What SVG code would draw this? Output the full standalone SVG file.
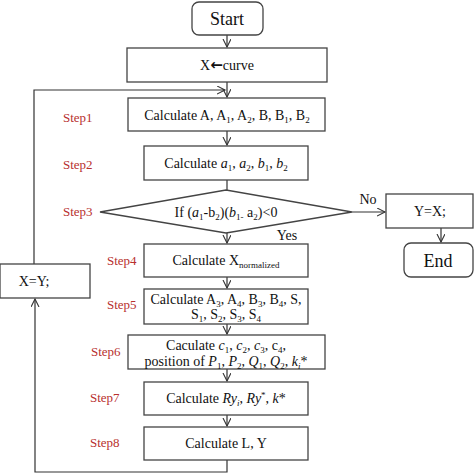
<svg xmlns="http://www.w3.org/2000/svg" width="474" height="474" viewBox="0 0 474 474">
<defs>
<marker id="arr" markerWidth="10" markerHeight="10" refX="8" refY="4" orient="auto" markerUnits="userSpaceOnUse">
<path d="M0,0 L8,4 L0,8" fill="none" stroke="#333" stroke-width="1.1"/>
</marker>
<style>
.box{fill:#fff;stroke:#444;stroke-width:1.3}
.t{font-family:"Liberation Serif","Times New Roman",serif;font-size:14px;fill:#111;text-anchor:middle}
.big{font-size:18px}
.s{font-size:9px}
.st{font-family:"Liberation Serif","Times New Roman",serif;font-size:13px;fill:#b8302e}
.c{fill:none;stroke:#333;stroke-width:1.2}
</style>
</defs>
<rect width="474" height="474" fill="#fff"/>
<g id="connectors">
<line class="c" x1="227" y1="35" x2="227" y2="47" marker-end="url(#arr)"/>
<line class="c" x1="227" y1="82" x2="227" y2="97" marker-end="url(#arr)"/>
<polyline class="c" points="34,264 34,90 225,90" marker-end="url(#arr)"/>
<line class="c" x1="227" y1="131" x2="227" y2="145" marker-end="url(#arr)"/>
<line class="c" x1="227" y1="180" x2="227" y2="190"/>
<line class="c" x1="352" y1="212" x2="385" y2="212" marker-end="url(#arr)"/>
<line class="c" x1="441" y1="228" x2="441" y2="242" marker-end="url(#arr)"/>
<line class="c" x1="227" y1="233" x2="227" y2="243" marker-end="url(#arr)"/>
<line class="c" x1="227" y1="277" x2="227" y2="288" marker-end="url(#arr)"/>
<line class="c" x1="227" y1="324" x2="227" y2="334" marker-end="url(#arr)"/>
<line class="c" x1="227" y1="369" x2="227" y2="381" marker-end="url(#arr)"/>
<line class="c" x1="227" y1="415" x2="227" y2="426" marker-end="url(#arr)"/>
<polyline class="c" points="227,460 227,472 35,472 35,299" marker-end="url(#arr)" stroke-width="1.6"/>
<text class="t" x="368" y="204" font-size="13">No</text>
<text class="t" x="287" y="240" font-size="13">Yes</text>
</g>
<g id="start">
<rect class="box" x="192" y="2" width="71" height="33" rx="7"/>
<text class="t big" x="227" y="25">Start</text>
</g>
<g id="init">
<rect class="box" x="127" y="48" width="200" height="34"/>
<text class="t" x="227" y="70">X<tspan font-family="DejaVu Sans, sans-serif" font-weight="bold" font-size="15">←</tspan>curve</text>
</g>
<g id="step1">
<text class="st" x="63" y="122">Step1</text>
<rect class="box" x="128" y="98" width="197" height="33"/>
<text class="t" x="227" y="120">Calculate A, A<tspan class="s" dy="3">1</tspan><tspan dy="-3">, A</tspan><tspan class="s" dy="3">2</tspan><tspan dy="-3">, B, B</tspan><tspan class="s" dy="3">1</tspan><tspan dy="-3">, B</tspan><tspan class="s" dy="3">2</tspan></text>
</g>
<g id="step2">
<text class="st" x="63" y="169">Step2</text>
<rect class="box" x="144" y="146" width="164" height="34"/>
<text class="t" x="226" y="168">Calculate <tspan font-style="italic">a</tspan><tspan class="s" dy="3">1</tspan><tspan dy="-3">, </tspan><tspan font-style="italic">a</tspan><tspan class="s" dy="3">2</tspan><tspan dy="-3">, </tspan><tspan font-style="italic">b</tspan><tspan class="s" dy="3">1</tspan><tspan dy="-3">, </tspan><tspan font-style="italic">b</tspan><tspan class="s" dy="3">2</tspan></text>
</g>
<g id="step3">
<text class="st" x="63" y="216">Step3</text>
<polygon class="box" points="100,212 226,190 352,212 226,233"/>
<text class="t" x="226" y="217">If (<tspan font-style="italic">a</tspan><tspan class="s" dy="3">1</tspan><tspan dy="-3">-b</tspan><tspan class="s" dy="3">2</tspan><tspan dy="-3">)(</tspan><tspan font-style="italic">b</tspan><tspan class="s" dy="3">1-</tspan><tspan dy="-3"> a</tspan><tspan class="s" dy="3">2</tspan><tspan dy="-3">)&lt;0</tspan></text>
</g>
<g id="yx">
<rect class="box" x="386" y="194" width="87" height="34"/>
<text class="t" x="430" y="216" font-size="13">Y=X;</text>
</g>
<g id="end">
<rect class="box" x="404" y="243" width="69" height="34" rx="7"/>
<text class="t big" x="438" y="267">End</text>
</g>
<g id="step4">
<text class="st" x="107" y="265">Step4</text>
<rect class="box" x="144" y="244" width="164" height="33"/>
<text class="t" x="226" y="265">Calculate X<tspan class="s" dy="3">normalized</tspan></text>
</g>
<g id="xy">
<rect class="box" x="0" y="264" width="90" height="34"/>
<text class="t" x="34" y="286" font-size="13">X=Y;</text>
</g>
<g id="step5">
<text class="st" x="107" y="309">Step5</text>
<rect class="box" x="144" y="289" width="164" height="35"/>
<text class="t" x="226" y="304">Calculate A<tspan class="s" dy="3">3</tspan><tspan dy="-3">, A</tspan><tspan class="s" dy="3">4</tspan><tspan dy="-3">, B</tspan><tspan class="s" dy="3">3</tspan><tspan dy="-3">, B</tspan><tspan class="s" dy="3">4</tspan><tspan dy="-3">, S,</tspan></text>
<text class="t" x="226" y="319">S<tspan class="s" dy="3">1</tspan><tspan dy="-3">, S</tspan><tspan class="s" dy="3">2</tspan><tspan dy="-3">, S</tspan><tspan class="s" dy="3">3</tspan><tspan dy="-3">, S</tspan><tspan class="s" dy="3">4</tspan></text>
</g>
<g id="step6">
<text class="st" x="91" y="356">Step6</text>
<rect class="box" x="128" y="335" width="197" height="34"/>
<text class="t" x="226" y="350">Caculate <tspan font-style="italic">c</tspan><tspan class="s" dy="3">1</tspan><tspan dy="-3">, </tspan><tspan font-style="italic">c</tspan><tspan class="s" dy="3">2</tspan><tspan dy="-3">, </tspan><tspan font-style="italic">c</tspan><tspan class="s" dy="3">3</tspan><tspan dy="-3">, c</tspan><tspan class="s" dy="3">4</tspan><tspan dy="-3">,</tspan></text>
<text class="t" x="226" y="366">position of <tspan font-style="italic">P</tspan><tspan class="s" dy="3">1</tspan><tspan dy="-3">, </tspan><tspan font-style="italic">P</tspan><tspan class="s" dy="3">2</tspan><tspan dy="-3">, </tspan><tspan font-style="italic">Q</tspan><tspan class="s" dy="3">1</tspan><tspan dy="-3">, </tspan><tspan font-style="italic">Q</tspan><tspan class="s" dy="3">2</tspan><tspan dy="-3">, </tspan><tspan font-style="italic">k</tspan><tspan class="s" font-style="italic" dy="3">i</tspan><tspan dy="-3">*</tspan></text>
</g>
<g id="step7">
<text class="st" x="90" y="402">Step7</text>
<rect class="box" x="144" y="382" width="164" height="33"/>
<text class="t" x="226" y="403">Calculate <tspan font-style="italic">Ry</tspan><tspan class="s" font-style="italic" dy="3">i</tspan><tspan dy="-3">, </tspan><tspan font-style="italic">Ry</tspan><tspan class="s" dy="-5">*</tspan><tspan dy="5">, </tspan><tspan font-style="italic">k</tspan>*</text>
</g>
<g id="step8">
<text class="st" x="90" y="447">Step8</text>
<rect class="box" x="144" y="427" width="164" height="33"/>
<text class="t" x="226" y="448">Calculate L, Y</text>
</g>
</svg>
